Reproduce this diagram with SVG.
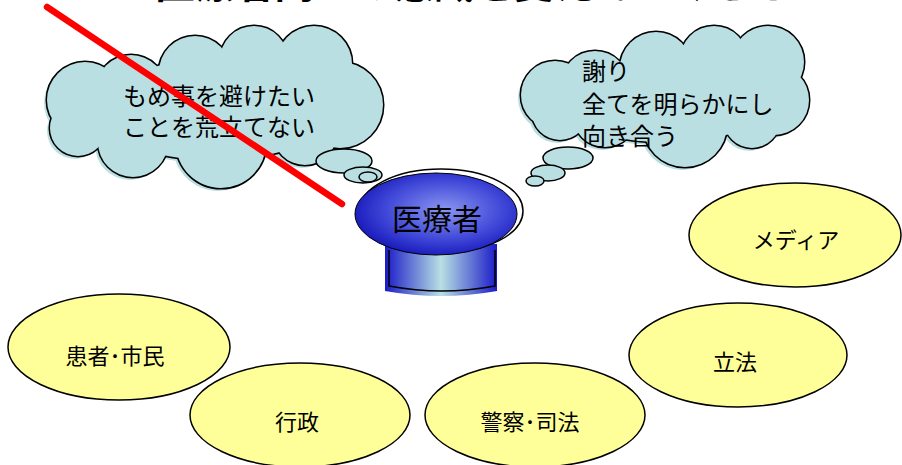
<svg xmlns="http://www.w3.org/2000/svg" xmlns:xlink="http://www.w3.org/1999/xlink" width="902" height="465" viewBox="0 0 902 465">
<style>
  .jp { font-family: "Noto Sans CJK JP", "Noto Sans", sans-serif; fill: #000; }
  .title { font-size: 40px; font-weight: bold; }
  .ctext { font-size: 24px; }
  .ytext { font-size: 22px; text-anchor: middle; }
  .yell { fill: #FFFF99; stroke: #000; stroke-width: 1.5; }
  .cl-shadow { fill: #BADFE3; stroke: none; }
  .cl-outline { fill: #000; stroke: #000; stroke-width: 3; }
  .cl-fill { fill: #BADFE3; stroke: none; }
  .bubble { fill: #BADFE3; stroke: #000; stroke-width: 1.5; }
</style>
<defs>
  <g id="cloudLShape">
    <circle cx="85" cy="100" r="38"/>
    <circle cx="131" cy="90" r="35"/>
    <circle cx="195" cy="72" r="36"/>
    <circle cx="254" cy="60" r="34"/>
    <circle cx="314" cy="64" r="38"/>
    <circle cx="340" cy="105" r="43"/>
    <circle cx="305" cy="133" r="32"/>
    <circle cx="221" cy="143" r="45"/>
    <circle cx="133" cy="142" r="35"/>
    <circle cx="78" cy="128" r="28"/>
    <ellipse cx="215" cy="110" rx="120" ry="50"/>
  </g>
  <g id="cloudRShape">
    <circle cx="555" cy="95" r="34"/>
    <circle cx="595" cy="85" r="34"/>
    <circle cx="656" cy="68" r="36"/>
    <circle cx="714" cy="60" r="34"/>
    <circle cx="768" cy="62" r="36"/>
    <circle cx="774" cy="100" r="35"/>
    <circle cx="752" cy="120" r="28"/>
    <circle cx="685" cy="125" r="42"/>
    <circle cx="605" cy="115" r="32"/>
    <circle cx="560" cy="112" r="28"/>
    <ellipse cx="665" cy="100" rx="110" ry="42"/>
  </g>
  <linearGradient id="cylGrad" x1="0" y1="0" x2="1" y2="0">
    <stop offset="0" stop-color="#1A1AC8"/>
    <stop offset="0.5" stop-color="#B8E0E4"/>
    <stop offset="1" stop-color="#1A1AC8"/>
  </linearGradient>
  <radialGradient id="topGrad" cx="0.55" cy="0.45" r="0.6">
    <stop offset="0" stop-color="#8A96F0"/>
    <stop offset="0.6" stop-color="#4048D8"/>
    <stop offset="1" stop-color="#1414B8"/>
  </radialGradient>
</defs>

<text class="jp title" x="155" y="-2.5" textLength="636" lengthAdjust="spacingAndGlyphs">医療者同士の意識を変えていくこと</text>

<g id="cloud-left">
  <use xlink:href="#cloudLShape" class="cl-shadow" transform="translate(-3,3)"/>
  <use xlink:href="#cloudLShape" class="cl-outline"/>
  <use xlink:href="#cloudLShape" class="cl-fill"/>
  <ellipse class="bubble" cx="344" cy="161" rx="28" ry="12"/>
  <ellipse class="bubble" cx="363" cy="175" rx="19" ry="8"/>
  <ellipse class="bubble" cx="368" cy="177" rx="9" ry="5"/>
  <text class="jp ctext" x="123" y="105">もめ事を避けたい</text>
  <text class="jp ctext" x="123" y="136">ことを荒立てない</text>
</g>

<g id="cloud-right">
  <use xlink:href="#cloudRShape" class="cl-shadow" transform="translate(-3,3)"/>
  <use xlink:href="#cloudRShape" class="cl-outline"/>
  <use xlink:href="#cloudRShape" class="cl-fill"/>
  <ellipse class="bubble" cx="568" cy="158" rx="25" ry="11"/>
  <ellipse class="bubble" cx="548" cy="173" rx="17" ry="8"/>
  <ellipse class="bubble" cx="535" cy="181" rx="9" ry="5"/>
  <text class="jp ctext" x="582" y="80">謝り</text>
  <text class="jp ctext" x="582" y="113">全てを明らかにし</text>
  <text class="jp ctext" x="582" y="145">向き合う</text>
</g>

<g id="strike">
  <line x1="47" y1="7" x2="342" y2="204" stroke="#FF0000" stroke-width="6.5" stroke-linecap="round"/>
</g>

<g id="node-iryousha">
  <path d="M385,244 L385,291 Q441,301 497,291 L497,244 Z" fill="url(#cylGrad)"/>
  <path d="M389,250 L389,286 Q442,296 495,286 L495,250" fill="none" stroke="#000" stroke-width="1.5"/>
  <ellipse cx="441" cy="211" rx="82" ry="42" fill="#FFFFFF" stroke="#000" stroke-width="1.5"/>
  <ellipse cx="436" cy="214" rx="81" ry="41" fill="url(#topGrad)" stroke="#000" stroke-width="1"/>
  <text class="jp" x="437" y="230" font-size="30" text-anchor="middle">医療者</text>
</g>

<g id="node-kanja">
  <ellipse class="yell" cx="119" cy="347" rx="111" ry="53"/>
  <text class="jp ytext" x="115" y="364">患者･市民</text>
</g>
<g id="node-gyousei">
  <ellipse class="yell" cx="300" cy="415" rx="110" ry="52"/>
  <text class="jp ytext" x="297" y="430">行政</text>
</g>
<g id="node-keisatsu">
  <ellipse class="yell" cx="535" cy="415" rx="110" ry="52"/>
  <text class="jp ytext" x="530" y="430">警察･司法</text>
</g>
<g id="node-rippou">
  <ellipse class="yell" cx="738" cy="355" rx="109" ry="52"/>
  <text class="jp ytext" x="735" y="370">立法</text>
</g>
<g id="node-media">
  <ellipse class="yell" cx="795" cy="235" rx="106" ry="52"/>
  <text class="jp ytext" x="796" y="248">メディア</text>
</g>
</svg>
